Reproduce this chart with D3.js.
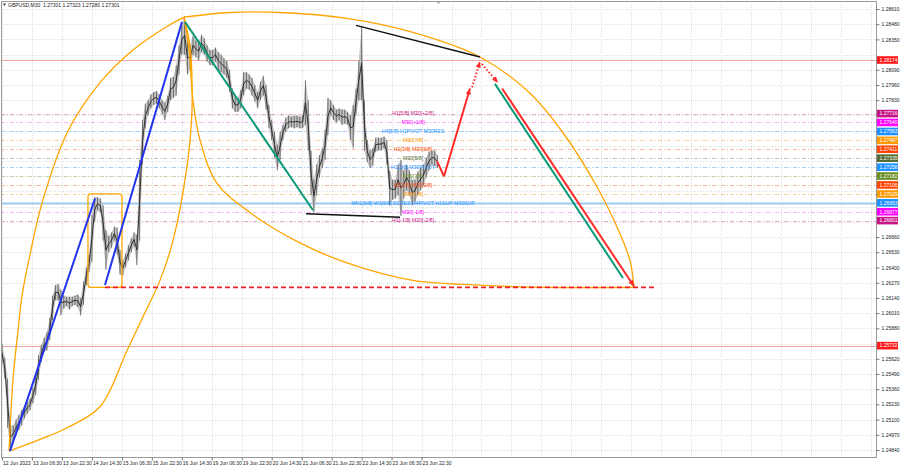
<!DOCTYPE html>
<html><head><meta charset="utf-8">
<script src="https://cdn.jsdelivr.net/npm/d3@7"></script>
<style>body{margin:0;background:#fff}svg{display:block;font-family:"Liberation Sans",Arial,sans-serif}</style>
</head><body><svg id="c" width="900" height="468"></svg>
<script>
// ---------- DATA ----------
const symbolTitle = "GBPUSD,M30  1.27301 1.27323 1.27280 1.27301";
const timeLabels = ["12 Jun 2023","13 Jun 06:30","13 Jun 22:30","14 Jun 14:30","15 Jun 06:30","15 Jun 22:30","16 Jun 14:30","19 Jun 06:30","19 Jun 22:30","20 Jun 14:30","21 Jun 06:30","21 Jun 22:30","22 Jun 14:30","23 Jun 06:30","23 Jun 22:30"];
const barsPerLabel = 32;
const barsPerGroup = 3;
const priceTicks = [1.28610,1.28480,1.28350,1.28220,1.28090,1.27960,1.27830,1.27700,1.27570,1.27440,1.27310,1.27180,1.27050,1.26920,1.26790,1.26660,1.26530,1.26400,1.26270,1.26140,1.26010,1.25880,1.25750,1.25620,1.25490,1.25360,1.25230,1.25100,1.24970,1.24840];
// high / low of each 3-bar group (M30)
const highs = [1.2575,1.2563,1.2545,1.2505,1.2505,1.2510,1.2514,1.2518,1.2522,1.2525,1.2528,1.2537,1.2548,1.2565,1.2574,1.2580,1.2585,1.2597,1.2616,1.2625,1.2626,1.2621,1.2616,1.2615,1.2615,1.2615,1.2616,1.2617,1.2614,1.2628,1.2640,1.2651,1.2685,1.2700,1.2700,1.2699,1.2693,1.2672,1.2667,1.2670,1.2675,1.2674,1.2655,1.2646,1.2652,1.2659,1.2665,1.2670,1.2668,1.2732,1.2766,1.2780,1.2783,1.2788,1.2790,1.2791,1.2788,1.2783,1.2781,1.2787,1.2802,1.2803,1.2813,1.2830,1.2847,1.2855,1.2834,1.2830,1.2838,1.2834,1.2833,1.2839,1.2836,1.2830,1.2826,1.2826,1.2828,1.2824,1.2822,1.2819,1.2817,1.2809,1.2793,1.2785,1.2785,1.2792,1.2807,1.2807,1.2805,1.2802,1.2796,1.2790,1.2799,1.2804,1.2796,1.2779,1.2766,1.2756,1.2745,1.2756,1.2762,1.2768,1.2770,1.2769,1.2770,1.2770,1.2769,1.2770,1.2800,1.2783,1.2740,1.2715,1.2728,1.2736,1.2742,1.2758,1.2785,1.2783,1.2779,1.2775,1.2776,1.2775,1.2775,1.2773,1.2770,1.2779,1.2793,1.2817,1.2846,1.2783,1.2749,1.2740,1.2742,1.2751,1.2751,1.2751,1.2752,1.2749,1.2723,1.2715,1.2715,1.2728,1.2732,1.2723,1.2728,1.2723,1.2715,1.2715,1.2722,1.2725,1.2728,1.2734,1.2739,1.2740,1.2740,1.2736];
const lows = [1.2559,1.2545,1.2503,1.2485,1.2491,1.2496,1.2501,1.2505,1.2511,1.2515,1.2518,1.2524,1.2531,1.2544,1.2559,1.2568,1.2569,1.2578,1.2595,1.2612,1.2612,1.2599,1.2605,1.2607,1.2604,1.2607,1.2608,1.2606,1.2599,1.2608,1.2625,1.2636,1.2645,1.2679,1.2689,1.2687,1.2663,1.2638,1.2653,1.2657,1.2663,1.2651,1.2634,1.2633,1.2640,1.2646,1.2653,1.2658,1.2642,1.2663,1.2728,1.2759,1.2770,1.2776,1.2779,1.2780,1.2776,1.2771,1.2766,1.2773,1.2783,1.2785,1.2787,1.2805,1.2822,1.2822,1.2805,1.2809,1.2822,1.2820,1.2817,1.2824,1.2822,1.2816,1.2813,1.2813,1.2816,1.2809,1.2807,1.2805,1.2802,1.2790,1.2776,1.2773,1.2773,1.2776,1.2787,1.2793,1.2792,1.2787,1.2782,1.2776,1.2783,1.2787,1.2775,1.2759,1.2749,1.2734,1.2723,1.2732,1.2749,1.2756,1.2759,1.2760,1.2759,1.2760,1.2759,1.2759,1.2762,1.2740,1.2702,1.2687,1.2702,1.2717,1.2725,1.2732,1.2753,1.2770,1.2766,1.2764,1.2766,1.2762,1.2763,1.2762,1.2749,1.2742,1.2770,1.2783,1.2783,1.2740,1.2730,1.2725,1.2727,1.2739,1.2740,1.2740,1.2742,1.2728,1.2693,1.2698,1.2699,1.2702,1.2684,1.2699,1.2706,1.2702,1.2693,1.2696,1.2702,1.2706,1.2710,1.2717,1.2723,1.2728,1.2727,1.2725];
// Murrey-style levels
const levelPrices = [1.27716,1.27640,1.27563,1.27487,1.27411,1.27335,1.27258,1.27182,1.27106,1.27029,1.26953,1.26877,1.26801];
const levelNames = ["H1[5/8] M30[+2/8]","M30[+1/8]","H4[5/8] H1PIVOT M30RES","M30[7/8]","H1[3/8] M30[6/8]","M30[5/8]","H1[2/8] M30PIVOT","M30[3/8]","H1[1/8] M30[2/8]","M30[1/8]","MN1[6/8] W1[6/8] D1RES H4PIVOT H1SUP M30SUP","M30[-1/8]","H1[-1/8] M30[-2/8]"];
const levelColors = ["#c71585","#ff00ff","#1e90ff","#ff9900","#ff4500","#556b2f","#1e90ff","#6b8e23","#ff4500","#ff9900","#1e90ff","#ff00ff","#c71585"];
const levelLineColors = ["#e6a6d6","#f6b2f6","#a9cff5","#f5cf9e","#f5b8a2","#bfc7ae","#a9cff5","#c9d4ae","#f5b8a2","#f5cf9e","#9ccbf2","#f6b2f6","#e6a6d6"];
const redLevels = [1.28174,1.25732];
// drawn objects: [bar index, price]
const ellipse1Left = [[7.5,1.2483],[11.7,1.2544],[17.1,1.2586],[21.4,1.2616],[29.9,1.2651],[42.7,1.2695],[69.4,1.2755],[104.6,1.2798],[139.9,1.2826],[176.2,1.2846],[194.3,1.2854]];
const ellipse1Right = [[7.5,1.2483],[40.6,1.2493],[69.4,1.2503],[104.6,1.2521],[133.5,1.2569],[150.6,1.2598],[168.7,1.2629],[182.6,1.2663],[197.5,1.2726],[202.6,1.2769],[203.0,1.2795],[201.0,1.2828],[194.3,1.2854]];
const ellipse2Upper = [[194.3,1.2854],[243.5,1.2858],[296.8,1.2858],[368.4,1.2853],[438.9,1.2841],[510.4,1.2820],[563.8,1.2789],[599.2,1.2755],[635.3,1.2709],[659.8,1.2669],[670.6,1.2646],[674.8,1.2623]];
const ellipse2Lower = [[194.3,1.2854],[199.7,1.2826],[203.9,1.2783],[211.4,1.2749],[229.6,1.2712],[264.8,1.2687],[318.2,1.2661],[368.4,1.2644],[438.9,1.2629],[510.4,1.2625],[582.0,1.2623],[674.8,1.2623]];
const boxCorners = [[91.8,1.2703],[128.1,1.2623]];
const blueLines = [[[8.5,1.2483],[99.3,1.2699]],[[110.0,1.2625],[192.2,1.2850]]];
const greenLines = [[[195.4,1.2850],[332.1,1.2689]],[[526.4,1.2797],[663.1,1.2631]]];
const blackLines = [[[378.0,1.2847],[510.4,1.2820]],[[324.6,1.2686],[425.0,1.2683]]];
const redDashed = [[110.0,1.2623],[697.3,1.2623]];
const redCurve = [[464.5,1.2731],[468.5,1.2724],[472.0,1.2718]];
const redUp = [[472.0,1.2718],[499.7,1.2793]];
const redDotUp = [[501.9,1.2794],[510.4,1.2816]];
const redDotDown = [[512.5,1.2814],[529.6,1.2798]];
const redDown = [[534.0,1.2793],[674.8,1.2624]];

// ---------- SCALES ----------
const W = 900, H = 468;
const plot = {l:1, t:1, r:876, b:457};
const x = d3.scaleLinear().domain([0, 480]).range([2, 2 + 480*0.9365]);
const y = d3.scaleLinear().domain([1.24840, 1.28610]).range([450, 9]);
const svg = d3.select("#c");
svg.append("rect").attr("width",W).attr("height",H).attr("fill","#fff");
svg.append("defs").append("clipPath").attr("id","clip").append("rect")
  .attr("x",plot.l).attr("y",plot.t).attr("width",plot.r-plot.l).attr("height",plot.b-plot.t);
const g = svg.append("g").attr("clip-path","url(#clip)");

// grid
const maxBar = x.invert(plot.r);
const gridBars = d3.range(0, maxBar, barsPerLabel);
g.selectAll(".vg").data(gridBars).join("line")
  .attr("x1",d=>Math.round(x(d))+0.5).attr("x2",d=>Math.round(x(d))+0.5).attr("y1",plot.t).attr("y2",plot.b)
  .attr("stroke","#e2e2e2").attr("stroke-width",1).attr("stroke-dasharray","1,1");
g.selectAll(".hg").data(priceTicks).join("line")
  .attr("x1",plot.l).attr("x2",plot.r).attr("y1",d=>Math.round(y(d))+0.5).attr("y2",d=>Math.round(y(d))+0.5)
  .attr("stroke","#e2e2e2").attr("stroke-width",1).attr("stroke-dasharray","1,1");

// level lines
g.selectAll(".lv").data(levelPrices).join("line")
  .attr("x1",plot.l).attr("x2",plot.r).attr("y1",d=>Math.round(y(d))+0.5).attr("y2",d=>Math.round(y(d))+0.5)
  .attr("stroke",(d,i)=>levelLineColors[i])
  .attr("stroke-width",(d,i)=>i===10?2:1)
  .attr("stroke-dasharray",(d,i)=>i===10?null:"4,2,1,2");
g.selectAll(".rl").data(redLevels).join("line")
  .attr("x1",plot.l).attr("x2",plot.r).attr("y1",d=>Math.round(y(d))+0.5).attr("y2",d=>Math.round(y(d))+0.5)
  .attr("stroke","#f4a3a3").attr("stroke-width",1);

// price bars
const groups = highs.map((h,i)=>({bar:i*barsPerGroup, h, l:lows[i]}));
g.append("path").datum(groups)
  .attr("d", d3.area().x(d=>x(d.bar)).y0(d=>y(d.l)).y1(d=>y(d.h)))
  .attr("fill","#c4c4c4");
g.selectAll(".cb").data(groups).join("line")
  .attr("x1",d=>x(d.bar)).attr("x2",d=>x(d.bar)).attr("y1",d=>y(d.h)).attr("y2",d=>y(d.l))
  .attr("stroke","#555").attr("stroke-width",0.8);
g.append("path").datum(groups)
  .attr("d", d3.line().x(d=>x(d.bar)).y(d=>(y(d.h)+y(d.l))/2))
  .attr("fill","none").attr("stroke","#222").attr("stroke-width",0.9);

// level labels
g.selectAll(".lt").data(levelPrices).join("text")
  .attr("x",413).attr("y",d=>y(d)+1.8)
  .attr("text-anchor","middle").attr("font-size",5.2)
  .attr("fill",(d,i)=>levelColors[i]).text((d,i)=>levelNames[i]);

// drawings
const pl = d3.line().x(d=>x(d[0])).y(d=>y(d[1]));
const cl = d3.line().x(d=>x(d[0])).y(d=>y(d[1])).curve(d3.curveCatmullRom.alpha(0.5));
[ellipse1Left, ellipse1Right, ellipse2Upper, ellipse2Lower].forEach(pts=>{
  g.append("path").attr("d",cl(pts)).attr("fill","none").attr("stroke","#ffa500").attr("stroke-width",1.3);
});
g.append("rect")
  .attr("x",x(boxCorners[0][0])).attr("y",y(boxCorners[0][1]))
  .attr("width",x(boxCorners[1][0])-x(boxCorners[0][0])).attr("height",y(boxCorners[1][1])-y(boxCorners[0][1]))
  .attr("rx",3).attr("fill","none").attr("stroke","#ffa500").attr("stroke-width",1.3);
g.append("path").attr("d",pl(redDashed)).attr("stroke","#ee2020").attr("stroke-width",1.6).attr("stroke-dasharray","5,3").attr("fill","none");
blueLines.forEach(p=>g.append("path").attr("d",pl(p)).attr("stroke","#2233ee").attr("stroke-width",2).attr("fill","none"));
greenLines.forEach(p=>g.append("path").attr("d",pl(p)).attr("stroke","#0a9a78").attr("stroke-width",2).attr("fill","none"));
blackLines.forEach(p=>g.append("path").attr("d",pl(p)).attr("stroke","#111").attr("stroke-width",1.5).attr("fill","none"));

function arrowHead(p0,p1,col){
  const x0=x(p0[0]),y0=y(p0[1]),x1=x(p1[0]),y1=y(p1[1]);
  const a=Math.atan2(y1-y0,x1-x0), L=6, w=2.6;
  const bx=x1-L*Math.cos(a), by=y1-L*Math.sin(a);
  g.append("path").attr("d",`M${x1},${y1}L${bx+w*Math.sin(a)},${by-w*Math.cos(a)}L${bx-w*Math.sin(a)},${by+w*Math.cos(a)}Z`).attr("fill",col);
}
g.append("path").attr("d",d3.line().x(d=>x(d[0])).y(d=>y(d[1])).curve(d3.curveBasis)(redCurve)).attr("stroke","#ff2a2a").attr("stroke-width",2).attr("fill","none");
g.append("path").attr("d",pl(redUp)).attr("stroke","#ff2a2a").attr("stroke-width",2).attr("fill","none");
arrowHead(redUp[0],redUp[1],"#ff2a2a");
[redDotUp, redDotDown].forEach(p=>{
  g.append("path").attr("d",pl(p)).attr("stroke","#ff2a2a").attr("stroke-width",2).attr("stroke-dasharray","1.5,2").attr("fill","none");
  arrowHead(p[0],p[1],"#ff2a2a");
});
g.append("path").attr("d",pl(redDown)).attr("stroke","#ff2a2a").attr("stroke-width",2).attr("fill","none");
arrowHead(redDown[0],redDown[1],"#ff2a2a");

// shift marker
svg.append("path").attr("d",`M${x(466)-2.5},1L${x(466)+2.5},1L${x(466)},4Z`).attr("fill","#aaa");

// frame
svg.append("rect").attr("x",plot.l+0.5).attr("y",plot.t+0.5).attr("width",plot.r-plot.l).attr("height",plot.b-plot.t)
  .attr("fill","none").attr("stroke","#9a9a9a").attr("stroke-width",1);

// axes (tick labels hidden behind coloured tags are dropped, as in the reference)
const tags = levelPrices.map((p,i)=>({p,c:levelColors[i]})).concat(redLevels.map(p=>({p,c:"#ff1a1a"})));
const visibleTicks = priceTicks.filter(t=>tags.every(tg=>Math.abs(y(tg.p)-y(t))>7.6));
const ya = d3.axisRight(y).tickValues(visibleTicks).tickFormat(d3.format(".5f")).tickSize(3).tickPadding(2);
const yg = svg.append("g").attr("transform",`translate(${plot.r+0.5},0)`).call(ya);
yg.select(".domain").remove();
yg.selectAll("line").attr("stroke","#777");
yg.selectAll("text").attr("font-size",5).attr("fill","#222").attr("font-family","Liberation Sans, Arial, sans-serif");

const labelBars = timeLabels.map((t,i)=>i*barsPerLabel);
const xa = d3.axisBottom(x).tickValues(labelBars).tickFormat((d,i)=>timeLabels[i]).tickSize(3).tickPadding(1);
const xg = svg.append("g").attr("transform",`translate(0,${plot.b+0.5})`).call(xa);
xg.select(".domain").remove();
xg.selectAll("line").attr("stroke","#777");
xg.selectAll("text").attr("font-size",5).attr("fill","#222").attr("text-anchor","start").attr("dx",0.5).attr("font-family","Liberation Sans, Arial, sans-serif");

// colored price tags
const tg = svg.selectAll(".tag").data(tags).join("g").attr("transform",d=>`translate(${plot.r+1},${y(d.p)})`);
tg.append("rect").attr("x",0).attr("y",-3.8).attr("width",21).attr("height",7.6).attr("fill",d=>d.c);
tg.append("text").attr("x",2.5).attr("y",1.8).attr("font-size",5).attr("fill","#fff").text(d=>d.p.toFixed(5));

// title
svg.append("path").attr("d","M3,3.5L6,3.5L4.5,6Z").attr("fill","#333");
svg.append("text").attr("x",8).attr("y",6.8).attr("font-size",5).attr("fill","#222").attr("xml:space","preserve").text(symbolTitle);
</script></body></html>
